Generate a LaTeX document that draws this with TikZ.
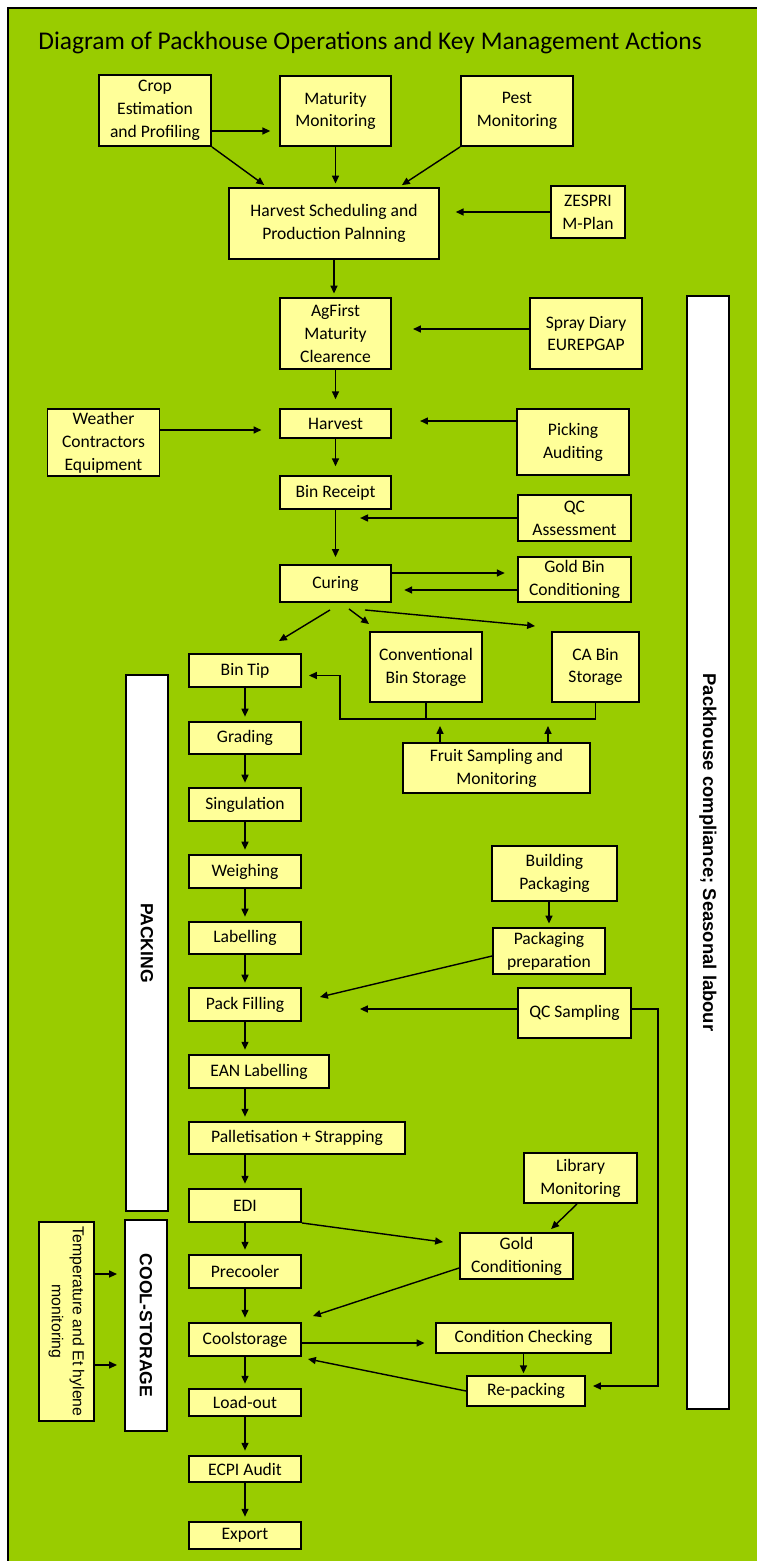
\documentclass[tikz,border=0pt]{standalone}
\usepackage{fontspec}
\setmainfont{Carlito}
\newfontfamily\barfont{Liberation Sans}
\usepackage{xcolor}
\usepackage{tikz}
\usetikzlibrary{shapes,arrows.meta,positioning,fit,calc}

\definecolor{bggreen}{RGB}{153,204,0}
\definecolor{boxyellow}{RGB}{255,255,153}

\tikzset{
    box/.style={rectangle, draw, line width=1.1pt, fill=boxyellow, align=center, inner sep=1pt, minimum width=2.24cm, minimum height=0.66cm, font=\fontsize{10}{13}\selectfont},
    bar/.style={rectangle, draw, line width=1.1pt, fill=white, rotate=-90, minimum height=0.84cm, font=\barfont\bfseries\fontsize{10}{12}\selectfont},
    arr/.style={-{Triangle[length=4.5pt,width=4pt]}, line width=0.8pt},
    link/.style={line width=0.8pt}
}

\begin{document}
\begin{tikzpicture}[x=0.02cm, y=-0.02cm]
    \useasboundingbox (0,0) rectangle (757,1561);
    \fill [bggreen] (9,9) rectangle (757,1561);
    \draw [line width=1.7pt] (8,1561) -- (8,8) -- (757,8);

    \node (title) [anchor=west, inner sep=0pt, font=\fontsize{14.5}{17}\selectfont] at (38,43) {Diagram of Packhouse Operations and Key Management Actions};

    \node (crop) [box, minimum height=1.42cm] at (155,110.5) {Crop\\Estimation\\and Profiling};
    \node (matur) [box, minimum width=2.22cm, minimum height=1.4cm] at (335.5,111) {Maturity\\Monitoring};
    \node (pest) [box, minimum height=1.4cm] at (517,111) {Pest\\Monitoring};
    \node (sched) [box, minimum width=4.2cm, minimum height=1.42cm] at (334,223.5) {Harvest Scheduling and\\Production Palnning};
    \node (zespri) [box, minimum width=1.48cm, minimum height=1.04cm] at (588,212) {ZESPRI\\M-Plan};
    \node (agfirst) [box, minimum width=2.22cm, minimum height=1.42cm] at (335.5,333.5) {AgFirst\\Maturity\\Clearence};
    \node (spray) [box, minimum height=1.42cm] at (586,333.5) {Spray Diary\\EUREPGAP};
    \node (weather) [box, minimum height=1.34cm] at (103.5,442.5) {Weather\\Contractors\\Equipment};
    \node (harvest) [box, minimum width=2.22cm, minimum height=0.58cm] at (335.5,423.5) {Harvest};
    \node (picking) [box, minimum height=1.32cm] at (573,442) {Picking\\Auditing};
    \node (binreceipt) [box, minimum width=2.22cm] at (335.5,492.5) {Bin Receipt};
    \node (qcassess) [box, minimum width=2.26cm, minimum height=0.92cm] at (574.5,518) {QC\\Assessment};
    \node (curing) [box, minimum width=2.22cm, minimum height=0.74cm] at (335.5,583.5) {Curing};
    \node (goldbin) [box, minimum width=2.26cm, minimum height=0.9cm] at (574.5,579.5) {Gold Bin\\Conditioning};
    \node (conv) [box, minimum height=1.4cm] at (426,667) {Conventional\\Bin Storage};
    \node (cabin) [box, minimum width=1.74cm, minimum height=1.4cm] at (595.5,667) {CA Bin\\Storage};
    \node (fruit) [box, minimum width=3.74cm, minimum height=1.0cm] at (496.5,768) {Fruit Sampling and\\Monitoring};

    \node (bintip) [box] at (245,670.5) {Bin Tip};
    \node (grading) [box, minimum height=0.64cm] at (245,738) {Grading};
    \node (singulation) [box] at (245,804.5) {Singulation};
    \node (weighing) [box] at (245,871.5) {Weighing};
    \node (labelling) [box, minimum height=0.64cm] at (245,938) {Labelling};
    \node (packfill) [box] at (245,1004.5) {Pack Filling};
    \node (ean) [box, minimum width=2.8cm] at (259,1071.5) {EAN Labelling};
    \node (pallet) [box, minimum width=4.32cm, minimum height=0.64cm] at (297,1138) {Palletisation + Strapping};
    \node (edi) [box] at (245,1205.5) {EDI};
    \node (precooler) [box] at (245,1271.5) {Precooler};
    \node (coolst) [box] at (245,1339.5) {Coolstorage};
    \node (loadout) [box, minimum height=0.54cm] at (245,1402.5) {Load-out};
    \node (ecpi) [box, minimum height=0.52cm] at (245,1469) {ECPI Audit};
    \node (export) [box, minimum height=0.54cm] at (245,1535.5) {Export};

    \node (building) [box, minimum width=2.5cm, minimum height=1.1cm] at (554.5,873.5) {Building\\Packaging};
    \node (packprep) [box, minimum height=0.92cm] at (549,951) {Packaging\\preparation};
    \node (qcsamp) [box, minimum width=2.26cm, minimum height=1.0cm] at (574.5,1013) {QC Sampling};
    \node (library) [box, minimum width=2.26cm, minimum height=1.0cm] at (580.5,1178) {Library\\Monitoring};
    \node (goldcond) [box, minimum width=2.26cm, minimum height=0.92cm] at (516.5,1256) {Gold\\Conditioning};
    \node (condcheck) [box, minimum width=3.5cm, minimum height=0.6cm] at (523.5,1338) {Condition Checking};
    \node (repack) [box, minimum width=2.36cm, minimum height=0.6cm] at (526,1391) {Re-packing};

    \node (temp) [box, rotate=-90, minimum width=3.98cm, minimum height=1.1cm, font=\barfont\fontsize{9}{12}\selectfont] at (66.5,1321.5) {Temperature and Et hylene\\monitoring};
    \node (packbar) [bar, minimum width=10.72cm] at (147,943) {PACKING};
    \node (coolbar) [bar, minimum width=4.22cm] at (146,1325.5) {COOL-STORAGE};
    \node (staffbar) [bar, minimum width=22.26cm, font=\barfont\bfseries\fontsize{10.5}{12}\selectfont] at (708,852.5) {Packhouse compliance; Seasonal labour};

    \coordinate (fork) at (340,719);

    \draw [arr, shorten >=5pt] ([yshift=-0.41cm]crop.east) -- ([yshift=-0.41cm]crop.east -| matur.west);
    \draw [arr, shorten >=2pt] (crop.south east) -- ([xshift=0.78cm]sched.north west);
    \draw [arr, shorten >=2pt] (matur.south) -- (matur.south |- sched.north);
    \draw [arr, shorten >=2pt] (pest.south west) -- ([xshift=-0.82cm]sched.north east);
    \draw [arr, shorten >=9pt] (zespri.west) -- (zespri.west -| sched.east);
    \draw [arr, shorten >=2pt] (sched.south) -- (sched.south |- agfirst.north);
    \draw [arr, shorten >=12pt] ([yshift=0.09cm]spray.west) -- ([yshift=0.09cm]spray.west -| agfirst.east);
    \draw [arr, shorten >=5pt] (agfirst.south) -- (harvest.north);
    \draw [arr, shorten >=10pt] ([yshift=0.25cm]weather.east) -- ([yshift=0.25cm]weather.east -| harvest.west);
    \draw [arr, shorten >=16pt] ([yshift=0.42cm]picking.west) -- ([yshift=0.42cm]picking.west -| harvest.east);
    \draw [arr, shorten >=5pt] (harvest.south) -- (binreceipt.north);
    \draw [arr, shorten >=14pt] (qcassess.west) -- (qcassess.west -| binreceipt.south);
    \draw [arr, shorten >=4pt] (binreceipt.south) -- (curing.north);
    \draw [arr, shorten >=7pt] ([yshift=0.21cm]curing.east) -- ([yshift=0.21cm]curing.east -| goldbin.west);
    \draw [arr, shorten >=7pt] ([yshift=-0.21cm]goldbin.west) -- ([yshift=-0.21cm]goldbin.west -| curing.east);
    \draw [arr] ([xshift=-0.11cm,yshift=-0.14cm]curing.south) -- ([xshift=-0.46cm,yshift=0.24cm]bintip.north east);
    \draw [arr] ([xshift=0.27cm,yshift=-0.12cm]curing.south) -- ([yshift=0.14cm]conv.north west);
    \draw [arr] ([xshift=0.59cm,yshift=-0.14cm]curing.south) -- ([xshift=-0.32cm,yshift=0.1cm]cabin.north west);

    \draw [arr, shorten >=4pt] (cabin.south) |- (fork) |- ([yshift=-0.1cm]bintip.east);
    \draw [link] (conv.south) -- (conv.south |- fork);
    \draw [arr, shorten >=4pt] ([xshift=-1.13cm]fruit.north) -- ([xshift=-1.13cm]fruit.north |- fork);
    \draw [arr, shorten >=4pt] ([xshift=1.03cm]fruit.north) -- ([xshift=1.03cm]fruit.north |- fork);

    \draw [arr, shorten >=2.5pt] (bintip.south) -- (grading.north);
    \draw [arr, shorten >=2.5pt] (grading.south) -- (singulation.north);
    \draw [arr, shorten >=2.5pt] (singulation.south) -- (weighing.north);
    \draw [arr, shorten >=2.5pt] (weighing.south) -- (labelling.north);
    \draw [arr, shorten >=2.5pt] (labelling.south) -- (packfill.north);
    \draw [arr, shorten >=2.5pt] (packfill.south) -- (packfill.south |- ean.north);
    \draw [arr, shorten >=2.5pt] (ean.south -| edi.south) -- (pallet.north -| edi.south);
    \draw [arr, shorten >=2.5pt] (pallet.south -| edi.south) -- (edi.north);
    \draw [arr, shorten >=2.5pt] (edi.south) -- (precooler.north);
    \draw [arr, shorten >=2.5pt] (precooler.south) -- (coolst.north);
    \draw [arr, shorten >=2.5pt] (coolst.south) -- (loadout.north);
    \draw [arr, shorten >=2.5pt] (loadout.south) -- (ecpi.north);
    \draw [arr, shorten >=2.5pt] (ecpi.south) -- (export.north);

    \draw [arr, shorten >=2pt] (packprep.north |- building.south) -- (packprep.north);
    \draw [arr] ([yshift=-0.1cm]packprep.west) -- ([xshift=0.36cm,yshift=0.15cm]packfill.east);
    \draw [arr, shorten >=33pt] ([yshift=0.08cm]qcsamp.west) -- ([yshift=0.08cm]qcsamp.west -| packfill.east);
    \draw [arr, shorten >=4pt] ([yshift=0.08cm]qcsamp.east) -- ++(0.52cm,0) |- ([yshift=0.1cm]repack.east);
    \draw [arr, shorten >=2.5pt] ([xshift=-0.07cm]library.south) -- ([xshift=0.63cm]goldcond.north);
    \draw [arr] (edi.south east) -- ([xshift=-0.32cm,yshift=-0.2cm]goldcond.north west);
    \draw [arr] ([yshift=-0.24cm]goldcond.west) -- ([xshift=0.22cm,yshift=0.12cm]coolst.north east);
    \draw [arr, shorten >=6pt] ([yshift=-0.07cm]coolst.east) -- ([yshift=-0.07cm]coolst.east -| condcheck.west);
    \draw [arr, shorten >=1pt] (condcheck.south) -- (condcheck.south |- repack.north);
    \draw [arr] (repack.west) -- ([xshift=0.12cm,yshift=-0.04cm]coolst.south east);

    \draw [arr, shorten >=4pt] ([yshift=0.95cm]temp.north) -- ([yshift=0.95cm]temp.north -| coolbar.south);
    \draw [arr, shorten >=4pt] ([yshift=-0.87cm]temp.north) -- ([yshift=-0.87cm]temp.north -| coolbar.south);
\end{tikzpicture}
\end{document}
